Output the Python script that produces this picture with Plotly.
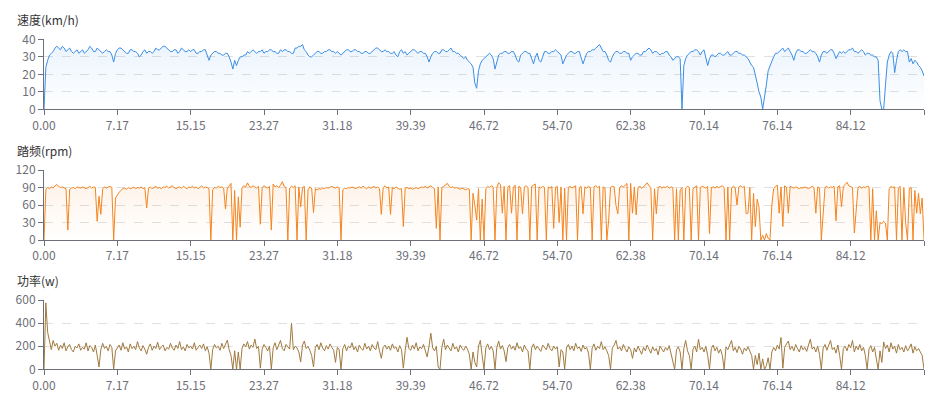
import plotly.graph_objects as go

# ---------------- data ----------------
dist_labels = ["0.00", "7.17", "15.15", "23.27", "31.18", "39.39", "46.72",
               "54.70", "62.38", "70.14", "76.14", "84.12"]

speed = (
    [0, 24, 28, 31, 32, 33, 35, 36, 35, 34,
     36, 35, 33, 34, 35, 33, 32, 33, 34, 32,
     33, 34, 32, 33, 34, 36, 35, 33, 33, 35,
     34, 33, 32, 33, 34, 33, 33, 31, 27, 32]
    + [34, 35, 35, 34, 33, 32, 32, 34, 34, 33,
       33, 32, 30, 31, 33, 34, 32, 33, 33, 32,
       33, 35, 34, 34, 35, 36, 36, 35, 34, 33,
       33, 34, 34, 32, 33, 35, 34, 33, 33, 34]
    + [33, 34, 34, 32, 32, 33, 33, 34, 34, 31,
       28, 31, 32, 33, 33, 32, 32, 31, 31, 32,
       32, 30, 27, 23, 28, 25, 28, 30, 30, 31,
       31, 33, 32, 33, 34, 33, 32, 33, 33, 34]
    + [32, 33, 33, 34, 34, 33, 33, 32, 32, 34,
       33, 34, 34, 33, 33, 32, 32, 35, 35, 36,
       36, 37, 34, 33, 31, 30, 30, 31, 32, 33,
       33, 32, 32, 33, 33, 34, 34, 33, 33, 32]
    + [33, 32, 31, 32, 33, 34, 34, 33, 33, 34,
       34, 33, 33, 32, 32, 33, 33, 32, 32, 33,
       34, 35, 35, 34, 33, 33, 34, 33, 33, 32,
       32, 33, 31, 30, 33, 34, 32, 33, 31, 32]
    + [33, 34, 34, 33, 32, 33, 33, 32, 32, 30,
       27, 30, 32, 33, 33, 32, 32, 34, 34, 33,
       33, 34, 35, 33, 33, 32, 32, 31, 30, 29,
       30, 28, 27, 26, 24, 15, 12, 22, 26, 28]
    + [29, 30, 31, 32, 31, 29, 23, 27, 31, 32,
       32, 33, 33, 32, 32, 33, 33, 31, 28, 27,
       31, 32, 33, 33, 32, 32, 29, 26, 30, 32,
       28, 27, 30, 33, 33, 32, 32, 33, 33, 34]
    + [33, 32, 31, 26, 29, 31, 32, 33, 33, 32,
       32, 33, 33, 30, 26, 29, 32, 33, 33, 34,
       34, 35, 36, 37, 35, 33, 33, 31, 28, 27,
       30, 32, 33, 33, 32, 32, 33, 33, 32, 32]
    + [28, 30, 31, 32, 32, 31, 31, 33, 33, 34,
       35, 34, 32, 33, 33, 32, 31, 32, 32, 33,
       33, 31, 30, 28, 29, 30, 30, 29, 0, 25,
       29, 31, 32, 33, 33, 34, 34, 33, 31, 33]
    + [34, 30, 25, 29, 31, 31, 30, 31, 32, 32,
       31, 31, 32, 33, 31, 31, 32, 33, 33, 32,
       32, 31, 31, 30, 29, 27, 25, 24, 20, 15,
       10, 7, 0, 6, 14, 22, 25, 28, 30, 32]
    + [32, 33, 34, 35, 33, 34, 35, 33, 31, 28,
       32, 34, 34, 33, 33, 32, 32, 33, 34, 33,
       33, 32, 30, 27, 31, 33, 33, 32, 33, 34,
       34, 32, 29, 31, 33, 32, 33, 32, 33, 34]
    + [34, 35, 33, 33, 32, 33, 34, 33, 31, 32,
       32, 31, 31, 30, 30, 28, 5, 0, 0, 14,
       27, 31, 33, 32, 21, 28, 33, 34, 33, 34,
       33, 33, 27, 29, 26, 28, 27, 25, 24, 22,
       19]
)

cadence = (
    [0, 86, 90, 88, 91, 89, 93, 95, 92, 90,
     91, 89, 88, 17, 87, 89, 90, 88, 91, 90,
     89, 91, 90, 88, 90, 92, 89, 91, 90, 32,
     75, 44, 88, 91, 89, 90, 92, 90, 0, 72]
    + [78, 82, 85, 88, 89, 87, 90, 88, 89, 91,
       88, 90, 89, 91, 88, 90, 55, 89, 91, 88,
       90, 92, 89, 90, 88, 91, 90, 92, 89, 91,
       93, 90, 88, 90, 91, 89, 92, 90, 88, 91]
    + [90, 92, 89, 91, 88, 90, 93, 89, 91, 90,
       88, 0, 86, 90, 89, 92, 90, 91, 89, 53,
       90, 92, 97, 0, 85, 0, 74, 22, 90, 93,
       91, 98, 92, 90, 93, 91, 89, 92, 27, 90]
    + [93, 91, 89, 92, 17, 96, 91, 93, 90, 94,
       100, 92, 90, 0, 89, 92, 90, 93, 0, 91,
       57, 90, 92, 0, 86, 91, 89, 47, 88, 86,
       88, 87, 89, 88, 90, 89, 91, 92, 90, 89]
    + [91, 89, 0, 86, 89, 88, 90, 89, 91, 90,
       88, 90, 91, 89, 92, 90, 88, 91, 89, 90,
       92, 89, 91, 88, 44, 90, 93, 89, 91, 44,
       90, 88, 91, 89, 87, 88, 23, 89, 90, 88]
    + [89, 87, 88, 90, 88, 89, 91, 90, 92, 89,
       91, 93, 90, 88, 20, 91, 0, 90, 92, 94,
       97, 92, 90, 91, 89, 90, 88, 87, 89, 88,
       86, 88, 87, 0, 80, 60, 34, 88, 0, 70]
    + [0, 88, 92, 90, 93, 91, 0, 90, 98, 95,
       46, 92, 0, 91, 93, 46, 90, 94, 0, 92,
       90, 45, 91, 93, 90, 0, 92, 94, 96, 0,
       91, 89, 92, 90, 0, 91, 89, 92, 20, 90]
    + [92, 30, 91, 0, 89, 0, 90, 92, 89, 91,
       93, 0, 90, 92, 45, 91, 89, 92, 90, 0,
       91, 93, 90, 92, 0, 91, 89, 0, 34, 90,
       92, 91, 59, 45, 90, 93, 91, 94, 97, 0]
    + [97, 46, 91, 43, 90, 92, 89, 91, 94, 98,
       93, 90, 0, 88, 45, 90, 92, 89, 91, 90,
       92, 89, 91, 90, 0, 88, 0, 86, 90, 0,
       89, 92, 90, 0, 88, 91, 93, 0, 90, 92]
    + [91, 89, 92, 11, 90, 91, 89, 92, 90, 91,
       93, 90, 0, 91, 0, 89, 92, 90, 60, 91,
       93, 90, 92, 45, 46, 90, 0, 80, 23, 70,
       56, 0, 8, 0, 11, 3, 0, 60, 88, 92]
    + [94, 46, 91, 23, 93, 90, 46, 92, 90, 89,
       91, 90, 88, 90, 89, 91, 90, 88, 90, 92,
       90, 46, 91, 89, 0, 46, 90, 92, 89, 91,
       90, 92, 33, 91, 93, 57, 92, 95, 99, 93]
    + [91, 90, 12, 57, 90, 92, 89, 91, 90, 92,
       91, 0, 88, 0, 50, 0, 30, 28, 32, 29,
       0, 88, 92, 90, 91, 0, 89, 92, 0, 90,
       29, 0, 88, 90, 0, 85, 46, 80, 45, 72,
       0]
)

power = (
    [0, 575, 320, 230, 170, 250, 200, 225, 165, 210,
     180, 230, 160, 195, 215, 170, 150, 200, 185, 220,
     165, 190, 175, 230, 160, 205, 190, 150, 210, 120,
     20, 170, 225, 180, 200, 160, 215, 190, 0, 160]
    + [185, 210, 165, 230, 175, 195, 150, 220, 180, 200,
       170, 240, 185, 160, 205, 175, 130, 190, 220, 165,
       200, 180, 235, 170, 195, 210, 160, 190, 175, 225,
       185, 165, 210, 180, 240, 170, 195, 160, 215, 185]
    + [200, 175, 230, 165, 190, 210, 180, 220, 160, 195,
       140, 0, 170, 215, 185, 200, 165, 225, 180, 210,
       253, 170, 120, 0, 160, 0, 150, 0, 180, 220,
       195, 240, 175, 210, 190, 262, 180, 200, 10, 175]
    + [215, 190, 160, 200, 0, 185, 230, 170, 205, 250,
       180, 160, 215, 190, 175, 400, 170, 200, 185, 150,
       64, 210, 245, 180, 200, 165, 120, 20, 190, 215,
       170, 230, 185, 160, 205, 175, 220, 190, 165, 60]
    + [190, 170, 0, 180, 215, 160, 200, 185, 230, 170,
       195, 150, 210, 180, 165, 225, 175, 200, 160, 215,
       185, 170, 240, 160, 95, 190, 210, 175, 200, 165,
       220, 180, 195, 150, 205, 170, 10, 160, 278, 180]
    + [165, 210, 175, 230, 160, 195, 180, 215, 170, 107,
       200, 313, 185, 160, 200, 20, 0, 190, 262, 170,
       210, 185, 160, 225, 175, 195, 150, 210, 180, 165,
       200, 175, 130, 0, 150, 60, 20, 200, 250, 120]
    + [0, 185, 220, 170, 200, 160, 0, 190, 245, 175,
       205, 160, 66, 190, 215, 175, 200, 165, 230, 180,
       195, 150, 210, 175, 160, 0, 185, 220, 170, 200,
       180, 155, 210, 190, 170, 225, 180, 160, 200, 175]
    + [195, 20, 170, 150, 0, 185, 215, 170, 200, 160,
       225, 180, 195, 155, 210, 175, 190, 140, 0, 185,
       220, 165, 200, 180, 240, 170, 195, 160, 120, 0,
       185, 210, 250, 175, 195, 160, 215, 180, 150, 195]
    + [170, 95, 185, 150, 200, 165, 130, 190, 160, 210,
       175, 140, 195, 160, 180, 125, 200, 170, 150, 190,
       165, 205, 140, 60, 0, 170, 195, 150, 0, 180,
       250, 160, 120, 0, 175, 200, 150, 260, 170, 190]
    + [150, 200, 120, 0, 180, 210, 160, 190, 140, 175,
       120, 0, 195, 170, 205, 250, 160, 190, 145, 200,
       175, 130, 185, 160, 195, 150, 120, 0, 120, 40,
       140, 0, 90, 0, 30, 100, 0, 150, 190, 160]
    + [210, 175, 275, 10, 190, 220, 245, 170, 200, 160,
       215, 180, 150, 205, 170, 190, 155, 210, 260, 175,
       195, 150, 200, 130, 0, 185, 215, 165, 200, 250,
       170, 190, 140, 210, 120, 0, 180, 200, 160, 215]
    + [185, 250, 150, 200, 170, 215, 160, 190, 120, 0,
       175, 205, 150, 190, 90, 0, 160, 60, 237, 180,
       210, 150, 230, 175, 200, 140, 215, 170, 190, 150,
       205, 160, 185, 220, 140, 195, 160, 180, 150, 120,
       0]
)

assert len(speed) == len(cadence) == len(power) == 481, (len(speed), len(cadence), len(power))

N = len(speed)
idx = list(range(N))
step = (N - 1) // len(dist_labels)
tick_vals = [i * step for i in range(len(dist_labels) + 1)]
tick_text = dist_labels + [""]

# ---------------- styling ----------------
FONT = "Noto Sans CJK SC, Noto Sans, sans-serif"
AXIS = "#6E7079"
GRID = "#E0E0E0"

W, H = 939, 396
L, R = 44, 924


def py(px):
    return 1 - px / H


series = [
    dict(y=speed, color="#3a8ee6", rgb="58,142,230", alpha=0.10, rng=[0, 40], dtick=10,
         top=39.3, bot=109.3, title="速度(km/h)", ty=20),
    dict(y=cadence, color="#f4841f", rgb="244,132,31", alpha=0.10, rng=[0, 120], dtick=30,
         top=170, bot=240, title="踏频(rpm)", ty=151),
    dict(y=power, color="#a07a40", rgb="160,122,64", alpha=0.05, rng=[0, 600], dtick=200,
         top=300, bot=369.3, title="功率(w)", ty=280.5),
]

fig = go.Figure()
layout = dict(
    width=W, height=H,
    margin=dict(l=L, r=W - R, t=0, b=0, pad=0),
    paper_bgcolor="white", plot_bgcolor="white",
    showlegend=False,
    font=dict(family=FONT, size=12, color=AXIS),
    annotations=[],
)

for k, s in enumerate(series, start=1):
    xa = "x" if k == 1 else f"x{k}"
    ya = "y" if k == 1 else f"y{k}"
    fig.add_trace(go.Scatter(
        x=idx, y=s["y"], xaxis=xa, yaxis=ya, mode="lines",
        line=dict(color=s["color"], width=1),
        fill="tozeroy",
        fillgradient=dict(type="vertical",
                          colorscale=[[0, f"rgba({s['rgb']},0)"],
                                      [1, f"rgba({s['rgb']},{s['alpha']})"]]),
        hoverinfo="skip",
    ))
    xkey = "xaxis" if k == 1 else f"xaxis{k}"
    ykey = "yaxis" if k == 1 else f"yaxis{k}"
    layout[xkey] = dict(
        domain=[0, 1], anchor=ya, range=[0, N - 1], automargin=False,
        tickmode="array", tickvals=tick_vals, ticktext=tick_text,
        showgrid=False, zeroline=False, showline=True, linecolor=AXIS, linewidth=1,
        ticks="outside", ticklen=5, tickcolor=AXIS,
        tickfont=dict(family=FONT, size=12, color=AXIS),
    )
    layout[ykey] = dict(
        domain=[py(s["bot"]), py(s["top"])], anchor=xa, range=s["rng"], automargin=False,
        tick0=0, dtick=s["dtick"],
        showgrid=True, gridcolor=GRID, griddash="dash", gridwidth=1,
        zeroline=False, showline=True, linecolor=AXIS, linewidth=1,
        ticks="outside", ticklen=5, tickcolor=AXIS,
        tickfont=dict(family=FONT, size=12, color=AXIS),
    )
    layout["annotations"].append(dict(
        xref="paper", yref="paper", x=(15 - L) / (R - L), y=py(s["ty"]),
        xanchor="left", yanchor="middle", showarrow=False,
        text=s["title"], font=dict(family=FONT, size=12, color="#333333"),
    ))

fig.update_layout(**layout)
fig.write_html("out.html", config={"displayModeBar": False},
               post_script="document.body.style.margin='0px';")
